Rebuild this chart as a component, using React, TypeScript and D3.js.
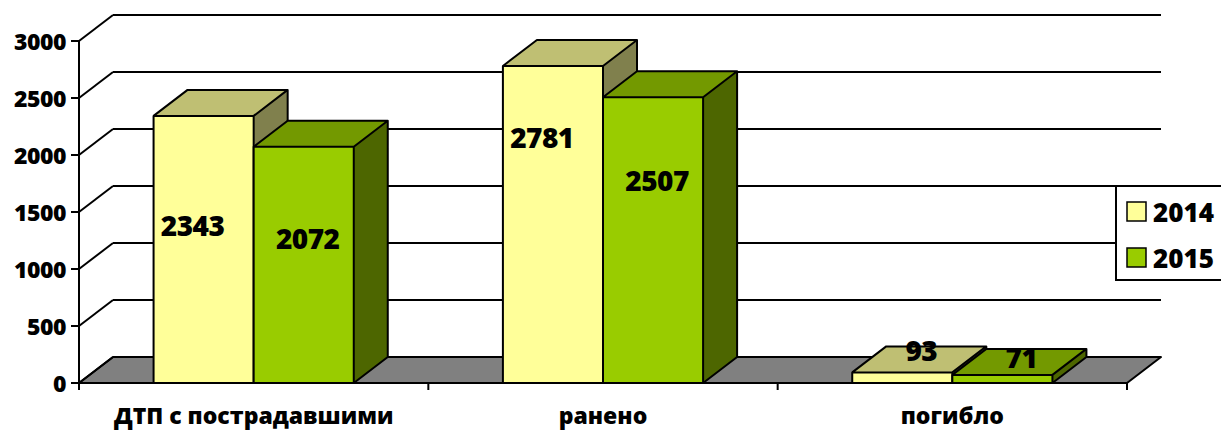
import React, { useRef, useEffect } from 'react';
import * as d3 from 'd3';

const categories = ['ДТП с пострадавшими', 'ранено', 'погибло'];
const seriesNames = ['2014', '2015'];
const values2014 = [2343, 2781, 93];
const values2015 = [2072, 2507, 71];
const yTicks = [0, 500, 1000, 1500, 2000, 2500, 3000];

const W = 1221;
const H = 430;
const FONT = "'Open Sans', 'DejaVu Sans', sans-serif";

// front face / side face / top face colours per series
const palette = [
  { front: '#ffff99', top: '#bfbf73', side: '#80804d' },
  { front: '#99cc00', top: '#739900', side: '#4d6600' },
];

// where the value label sits, as a share of the bar height (manual placement in source)
const labelLift = [
  [0.59, 0.775, 0],
  [0.615, 0.71, 0],
];
const labelNudge = [-11, 4];

const App = () => {
  const svgRef = useRef<SVGSVGElement>(null);

  useEffect(() => {
    const svg = d3.select(svgRef.current);
    svg.selectAll('*').remove();

    const left = 79, right = 1127, bottom = 383;
    const dx = 34, dy = -26; // depth offset

    const x = d3.scaleBand().domain(categories).range([left, right]).padding(0);
    const xs = d3.scaleBand().domain(seriesNames).range([0, x.bandwidth()])
      .paddingInner(0).paddingOuter(0.745);
    const y = d3.scaleLinear().domain([0, 3000]).range([bottom, 41]);

    // floor
    svg.append('polygon')
      .attr('points', [[left, bottom], [right, bottom], [right + dx, bottom + dy], [left + dx, bottom + dy]].join(' '))
      .attr('fill', '#808080')
      .attr('stroke', '#000')
      .attr('stroke-width', 2)
      .attr('stroke-linejoin', 'round');

    // back wall grid + side wall diagonals
    yTicks.forEach(t => {
      const yy = y(t);
      svg.append('line')
        .attr('x1', left + dx).attr('x2', right + dx)
        .attr('y1', yy + dy).attr('y2', yy + dy)
        .attr('stroke', '#000').attr('stroke-width', 2);
      svg.append('line')
        .attr('x1', left).attr('x2', left + dx)
        .attr('y1', yy).attr('y2', yy + dy)
        .attr('stroke', '#000').attr('stroke-width', 2);
    });

    // y axis
    svg.append('line')
      .attr('x1', left).attr('x2', left)
      .attr('y1', y(3000)).attr('y2', bottom + 1)
      .attr('stroke', '#000').attr('stroke-width', 2);
    svg.selectAll('line.ytick')
      .data(yTicks)
      .join('line')
      .attr('class', 'ytick')
      .attr('x1', left - 8).attr('x2', left)
      .attr('y1', d => y(d)).attr('y2', d => y(d))
      .attr('stroke', '#000').attr('stroke-width', 2);
    svg.selectAll('text.ylab')
      .data(yTicks)
      .join('text')
      .attr('class', 'ylab')
      .attr('x', left - 13)
      .attr('y', d => y(d))
      .attr('text-anchor', 'end')
      .attr('dominant-baseline', 'central')
      .attr('font-family', FONT)
      .attr('font-weight', 800)
      .attr('font-size', 23)
      .attr('letter-spacing', -0.5)
      .text(d => d);

    // x axis
    svg.append('line')
      .attr('x1', left).attr('x2', right)
      .attr('y1', bottom).attr('y2', bottom)
      .attr('stroke', '#000').attr('stroke-width', 2);
    svg.selectAll('line.xtick')
      .data([left, ...categories.map(c => (x(c) as number) + x.bandwidth())])
      .join('line')
      .attr('class', 'xtick')
      .attr('x1', d => d).attr('x2', d => d)
      .attr('y1', bottom).attr('y2', bottom + 7)
      .attr('stroke', '#000').attr('stroke-width', 2);

    // bars
    const allSeries = [values2014, values2015];
    categories.forEach((cat, ci) => {
      allSeries.forEach((vals, si) => {
        const x0 = (x(cat) as number) + (xs(seriesNames[si]) as number);
        const x1 = x0 + xs.bandwidth();
        const yt = y(vals[ci]);
        const col = palette[si];
        const g = svg.append('g');
        g.append('polygon')
          .attr('points', [[x1, yt], [x1 + dx, yt + dy], [x1 + dx, bottom + dy], [x1, bottom]].join(' '))
          .attr('fill', col.side);
        g.append('polygon')
          .attr('points', [[x0, yt], [x1, yt], [x1 + dx, yt + dy], [x0 + dx, yt + dy]].join(' '))
          .attr('fill', col.top);
        g.append('rect')
          .attr('x', x0).attr('y', yt)
          .attr('width', x1 - x0).attr('height', bottom - yt)
          .attr('fill', col.front);
        // outline
        g.append('path')
          .attr('d', `M${x0},${bottom}V${yt}H${x1}V${bottom}Z M${x0},${yt}L${x0 + dx},${yt + dy}H${x1 + dx}L${x1},${yt} M${x1 + dx},${yt + dy}V${bottom + dy}L${x1},${bottom}`)
          .attr('fill', 'none')
          .attr('stroke', '#000')
          .attr('stroke-width', 2)
          .attr('stroke-linejoin', 'round');
      });
    });

    // value labels
    categories.forEach((cat, ci) => {
      allSeries.forEach((vals, si) => {
        const x0 = (x(cat) as number) + (xs(seriesNames[si]) as number);
        const cx = x0 + xs.bandwidth() / 2;
        const yt = y(vals[ci]);
        const lift = labelLift[si][ci];
        let lx, ly;
        if (lift > 0) {
          lx = cx + labelNudge[si];
          ly = bottom - (bottom - yt) * lift;
        } else {
          lx = cx + dx / 2 + 2;
          ly = yt + dy / 2 - 9 + si * 4;
        }
        svg.append('text')
          .attr('x', lx).attr('y', ly)
          .attr('text-anchor', 'middle')
          .attr('dominant-baseline', 'central')
          .attr('font-family', FONT)
          .attr('font-weight', 800)
          .attr('font-size', 28)
          .attr('letter-spacing', -0.5)
          .text(vals[ci]);
      });
    });

    // category labels
    svg.selectAll('text.cat')
      .data(categories)
      .join('text')
      .attr('class', 'cat')
      .attr('x', d => (x(d) as number) + x.bandwidth() / 2)
      .attr('y', 415)
      .attr('text-anchor', 'middle')
      .attr('dominant-baseline', 'central')
      .attr('font-family', FONT)
      .attr('font-weight', 800)
      .attr('font-size', 23)
      .text(d => d);

    // legend
    const lg = svg.append('g');
    lg.append('rect')
      .attr('x', 1116).attr('y', 186)
      .attr('width', 120).attr('height', 94)
      .attr('fill', '#fff')
      .attr('stroke', '#000').attr('stroke-width', 2);
    seriesNames.forEach((s, i) => {
      const yy = 211 + i * 46;
      lg.append('rect')
        .attr('x', 1127).attr('y', yy - 9)
        .attr('width', 19).attr('height', 19)
        .attr('fill', palette[i].front)
        .attr('stroke', '#000').attr('stroke-width', 1.5);
      lg.append('text')
        .attr('x', 1153).attr('y', yy + 1)
        .attr('dominant-baseline', 'central')
        .attr('font-family', FONT)
        .attr('font-weight', 800)
        .attr('font-size', 26)
        .text(s);
    });
  }, []);

  return (
    <svg
      ref={svgRef}
      width={W}
      height={H}
      style={{ position: 'fixed', left: 0, top: 0, background: '#fff', display: 'block' }}
    />
  );
};

export default App;
